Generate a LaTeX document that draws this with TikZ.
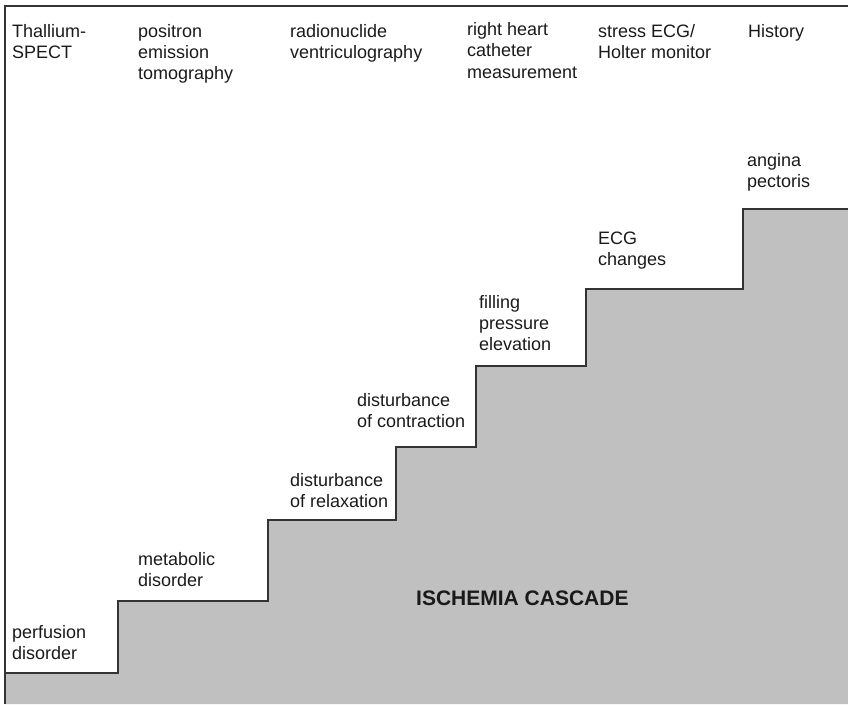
\documentclass[tikz,border=0pt]{standalone}
\usepackage{fontspec}
\setmainfont{Liberation Sans}
\definecolor{stepgray}{HTML}{C0C0C0}
\definecolor{linegray}{HTML}{333333}
\definecolor{txt}{HTML}{1A1A1A}
\tikzset{
  lbl/.style={anchor=base west, inner sep=0pt, text=txt, font=\fontsize{18}{21.3}\selectfont},
  title/.style={anchor=base west, inner sep=0pt, text=txt, font=\fontsize{21}{25}\selectfont\bfseries},
  stairline/.style={draw=linegray, line width=1.3pt, line join=miter},
}
\newcommand\twol[2]{\vtop{\hbox{#1}\hbox{#2}}}
\newcommand\threel[3]{\vtop{\hbox{#1}\hbox{#2}\hbox{#3}}}
\begin{document}
\begin{tikzpicture}[x=1pt,y=-1pt]
\useasboundingbox (0,0) rectangle (848,704);
% stair fill
\fill[stepgray] (5,704) -- (5,673) -- (118,673) -- (118,601) -- (268,601) -- (268,520)
  -- (396,520) -- (396,447) -- (476,447) -- (476,366) -- (586,366) -- (586,289)
  -- (743,289) -- (743,209) -- (848,209) -- (848,704) -- cycle;
% stair outline
\draw[stairline] (5,673) -- (118,673) -- (118,601) -- (268,601) -- (268,520)
  -- (396,520) -- (396,447) -- (476,447) -- (476,366) -- (586,366) -- (586,289)
  -- (743,289) -- (743,209) -- (848,209);
% frame
\draw[stairline] (848,6) -- (5,6) -- (5,704);
% methods (top row)
\node[lbl] (m1) at (12,37) {\twol{Thallium-}{SPECT}};
\node[lbl] (m2) at (138,37) {\threel{positron}{emission}{tomography}};
\node[lbl] (m3) at (290,37) {\twol{radionuclide}{ventriculography}};
\node[lbl] (m4) at (467,35.5) {\threel{right heart}{catheter}{measurement}};
\node[lbl] (m5) at (598,37) {\twol{stress ECG/}{Holter monitor}};
\node[lbl] (m6) at (748,37.5) {History};
% steps
\node[lbl] (s1) at (12,638) {\twol{perfusion}{disorder}};
\node[lbl] (s2) at (138,565) {\twol{metabolic}{disorder}};
\node[lbl] (s3) at (290,486) {\twol{disturbance}{of relaxation}};
\node[lbl] (s4) at (357,406) {\twol{disturbance}{of contraction}};
\node[lbl] (s5) at (479,308) {\threel{filling}{pressure}{elevation}};
\node[lbl] (s6) at (598,244) {\twol{ECG}{changes}};
\node[lbl] (s7) at (747,166) {\twol{angina}{pectoris}};
% title
\node[title] (t) at (416,605) {ISCHEMIA CASCADE};
\end{tikzpicture}
\end{document}
